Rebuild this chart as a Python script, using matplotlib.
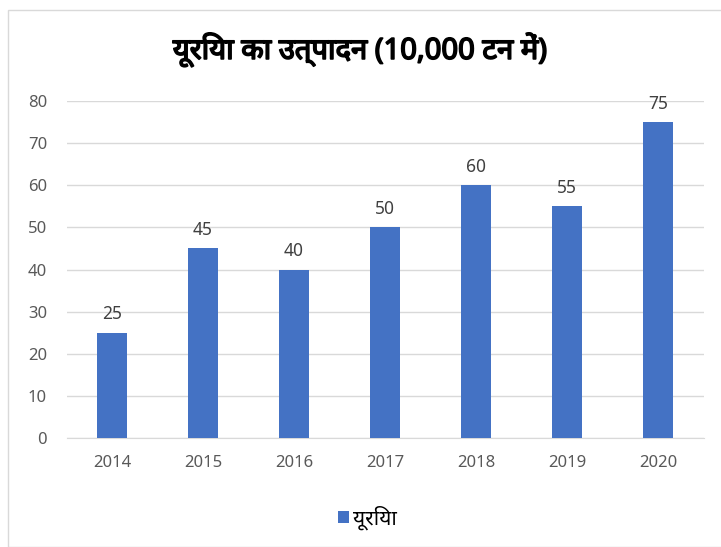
import matplotlib
matplotlib.use('Agg')
import matplotlib.pyplot as plt
import matplotlib.patheffects as pe
from matplotlib.patches import Rectangle

# Data
years = ['2014', '2015', '2016', '2017', '2018', '2019', '2020']
urea = [25, 45, 40, 50, 60, 55, 75]
title = 'यूरिया का उत्पादन (10,000 टन में)'
series_name = 'यूरिया'
yticks = [0, 10, 20, 30, 40, 50, 60, 70, 80]

plt.rcParams['font.family'] = ['Noto Sans', 'DejaVu Sans', 'Liberation Sans']

fig = plt.figure(figsize=(7.21, 5.47), dpi=100)
# chart border
fig.patches.append(Rectangle((8 / 721, 0), 1, 1 - 10 / 547, transform=fig.transFigure,
                             fill=False, edgecolor='#d9d9d9', linewidth=1))

ax = fig.add_axes([66.5 / 721, 1 - 438 / 547, 637 / 721, 337 / 547])
x = range(len(years))
bars = ax.bar(x, urea, width=0.33, color='#4472c4', label=series_name, zorder=3)
for xi, v in zip(x, urea):
    ax.text(xi, v + 2.2, str(v), ha='center', va='bottom', fontsize=12.5, color='#404040')

ax.set_xlim(-0.5, len(years) - 0.5)
ax.set_ylim(0, 80)
ax.set_yticks(yticks)
ax.set_xticks(list(x))
ax.set_xticklabels(years)
ax.tick_params(axis='both', length=0, labelsize=12, colors='#595959')
ax.tick_params(axis='x', pad=12)
ax.tick_params(axis='y', pad=14)
ax.grid(axis='y', color='#d9d9d9', linewidth=1, zorder=0)
for s in ['top', 'right', 'left']:
    ax.spines[s].set_visible(False)
ax.spines['bottom'].set_color('#d9d9d9')

fig.text(0.5, 1 - 50 / 547, title, ha='center', va='center', fontsize=21, fontweight='bold',
         color='black', path_effects=[pe.withStroke(linewidth=1.2, foreground='black')])
fig.legend(handles=[bars], labels=[series_name], loc='center', bbox_to_anchor=(0.51, 1 - 518 / 547),
           frameon=False, fontsize=15, handlelength=0.5, handleheight=0.5, handletextpad=0.2)

fig.savefig('out.png', dpi=100)
